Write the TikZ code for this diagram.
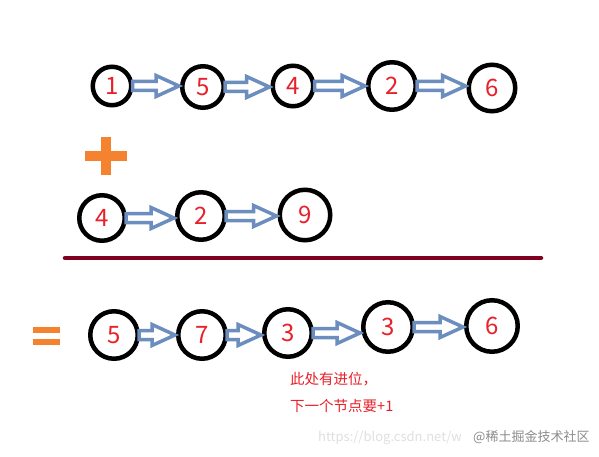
\documentclass[tikz,border=0pt]{standalone}
\usepackage{fontspec}
\newfontfamily\cjk{Noto Sans CJK SC}
\usetikzlibrary{calc}
\definecolor{numred}{HTML}{E8202A}
\definecolor{arrblue}{HTML}{6C8EBF}
\definecolor{plusorange}{HTML}{F5822F}
\definecolor{linered}{HTML}{7F0020}
\tikzset{
  ll/.style={circle, draw=black, line width=4.5pt, text=numred, inner sep=0pt,
    font=\cjk\fontsize{24}{24}\selectfont, minimum size=#1},
  blockarr/.style={draw=arrblue, fill=white, line width=3.5pt, line join=miter},
  note/.style={text=numred, font=\cjk\fontsize{14.5}{14.5}\selectfont, anchor=west, inner sep=0pt},
  wm/.style={font=\cjk\fontsize{13}{13}\selectfont, anchor=west, inner sep=0pt}
}
\newcommand\blkarr[2]{%
  \draw[blockarr] let \p1=(#1.east), \p2=(#2.west) in
    (\x1-1pt,\y1+4.5pt) -- (\x2-24pt,\y1+4.5pt) -- (\x2-24pt,\y1+10.5pt) -- (\x2-1pt,\y1)
    -- (\x2-24pt,\y1-10.5pt) -- (\x2-24pt,\y1-4.5pt) -- (\x1-1pt,\y1-4.5pt) -- cycle;}
\begin{document}
\begin{tikzpicture}[x=1pt,y=-1pt]
\useasboundingbox[fill=white] (0,0) rectangle (599,457);
% row 1
\node[ll=38.5pt] (a1) at (112,86) {1};
\node[ll=41.5pt] (a2) at (203,87) {5};
\node[ll=40.5pt] (a3) at (293,86) {4};
\node[ll=47.5pt] (a4) at (392,86) {2};
\node[ll=46.5pt] (a5) at (492,88) {6};
\blkarr{a1}{a2}
\blkarr{a2}{a3}
\blkarr{a3}{a4}
\blkarr{a4}{a5}
% plus
\fill[plusorange] (85,151) rectangle (127,161);
\fill[plusorange] (101,137) rectangle (111,175);
% row 2
\node[ll=45.5pt] (b1) at (102,218) {4};
\node[ll=47.5pt] (b2) at (201,216) {2};
\node[ll=50.5pt] (b3) at (305,215) {9};
\blkarr{b1}{b2}
\blkarr{b2}{b3}
% line
\coordinate (l1) at (65,258);
\coordinate (l2) at (541,258);
\draw[linered, line width=4.5pt, line cap=round] (l1) -- (l2);
% equals
\fill[plusorange] (33,327) rectangle (60,333);
\fill[plusorange] (33,339) rectangle (60,345);
% row 3
\node[ll=47.5pt] (c1) at (114,335) {5};
\node[ll=47.5pt] (c2) at (202,335) {7};
\node[ll=47.5pt] (c3) at (288,333) {3};
\node[ll=49.5pt] (c4) at (388,327) {3};
\node[ll=51.5pt] (c5) at (492,326) {6};
\blkarr{c1}{c2}
\blkarr{c2}{c3}
\blkarr{c3}{c4}
\blkarr{c4}{c5}
% note
\node[note] (t1) at (290,379) {此处有进位，};
\node[note] (t2) at (290,406) {下一个节点要+1};
% watermark
\node[wm, text=black!12] (w1) at (318,438) {https://blog.csdn.net/w};
\node[wm, text=black!45] (w2) at (473,437) {@稀土掘金技术社区};
\end{tikzpicture}
\end{document}
